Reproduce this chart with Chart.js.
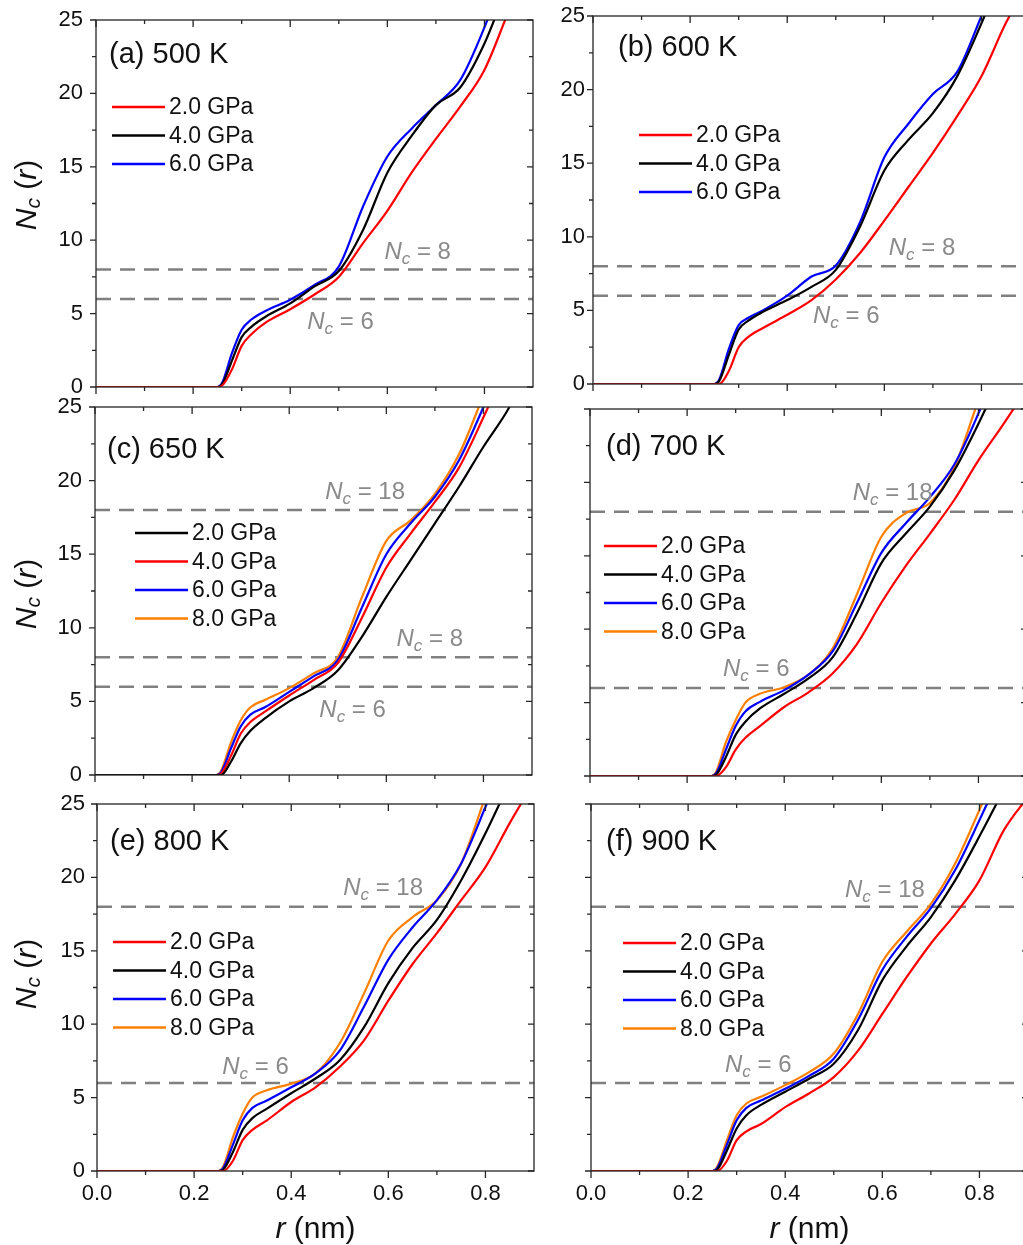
<!DOCTYPE html>
<html>
<head>
<meta charset="utf-8">
<script src="https://cdn.jsdelivr.net/npm/chart.js@4.4.0/dist/chart.umd.min.js"></script>
<style>
  html, body { margin: 0; padding: 0; background: #fff; overflow: hidden; }
  body { width: 1023px; height: 1245px; position: relative; }
  canvas { position: absolute; }
</style>
</head>
<body>
<canvas id="pa"></canvas>
<canvas id="pb"></canvas>
<canvas id="pc"></canvas>
<canvas id="pd"></canvas>
<canvas id="pe"></canvas>
<canvas id="pf"></canvas>
<script>
// r (nm) sample points shared by every curve
const R = [0, 0.25, 0.26, 0.28, 0.3, 0.32, 0.35, 0.4, 0.45, 0.5, 0.55, 0.6, 0.65, 0.7, 0.75, 0.8, 0.85, 0.9];

// (a) 500 K
const a20 = [0, 0, 0.1, 1.2, 2.8, 3.6, 4.4, 5.3, 6.3, 7.5, 9.8, 12.0, 14.6, 16.9, 19.1, 21.6, 25.6, 29.5];
const a40 = [0, 0, 0.2, 1.8, 3.4, 4.1, 4.8, 5.7, 6.85, 7.9, 10.7, 14.6, 17.1, 19.2, 20.4, 23.4, 27.5, 31];
const a60 = [0, 0, 0.3, 2.3, 3.9, 4.6, 5.2, 5.95, 6.95, 8.2, 12.3, 15.7, 17.6, 19.2, 20.9, 24.5, 29, 33];
// (b) 600 K
const b20 = [0, 0, 0, 0.9, 2.5, 3.2, 3.8, 4.7, 5.7, 7.1, 8.9, 11.1, 13.4, 15.7, 18.2, 20.9, 24.5, 27.5];
const b40 = [0, 0, 0.2, 2.0, 3.7, 4.3, 4.9, 5.7, 6.6, 7.75, 10.7, 14.5, 16.6, 18.4, 20.9, 24.5, 28.5, 32];
const b60 = [0, 0, 0.3, 2.4, 4.0, 4.5, 5.0, 6.0, 7.3, 8.05, 11.0, 15.4, 17.7, 19.7, 21.2, 25.0, 29, 33];
// (c) 650 K
const c20 = [0, 0, 0, 0.9, 2.15, 3.0, 3.85, 5.0, 5.9, 7.1, 9.4, 12.1, 14.6, 17.1, 19.6, 22.3, 24.8, 28];
const c40 = [0, 0, 0.1, 1.3, 2.8, 3.6, 4.3, 5.4, 6.45, 7.6, 10.7, 14.1, 16.4, 18.55, 20.9, 24.3, 28, 32];
const c60 = [0, 0, 0.2, 1.8, 3.3, 4.1, 4.6, 5.65, 6.7, 7.8, 11.4, 15.0, 17.1, 18.9, 21.4, 25.0, 29, 33];
const c80 = [0, 0, 0.3, 2.2, 3.7, 4.6, 5.1, 5.9, 6.9, 8.0, 12.1, 15.9, 17.3, 19.1, 21.8, 25.8, 30, 34];
// (d) 700 K
const d20 = [0, 0, 0, 0.6, 1.8, 2.6, 3.4, 4.7, 5.7, 7.0, 9.0, 11.8, 14.3, 16.5, 18.8, 21.5, 23.9, 26.4];
const d40 = [0, 0, 0.1, 1.3, 2.8, 3.7, 4.6, 5.6, 6.65, 8.1, 11.1, 14.5, 16.5, 18.35, 20.8, 24.0, 27.5, 31];
const d60 = [0, 0, 0.2, 1.8, 3.4, 4.4, 5.05, 5.85, 6.9, 8.5, 11.8, 15.2, 17.2, 19.0, 21.2, 24.7, 29, 33];
const d80 = [0, 0, 0.3, 2.3, 3.8, 5.0, 5.6, 6.05, 6.9, 8.7, 12.4, 16.3, 17.9, 18.6, 21.0, 25.6, 30, 34];
// (e) 800 K
const e20 = [0, 0, 0, 0.7, 2.1, 2.8, 3.45, 4.7, 5.7, 7.1, 8.9, 11.6, 14.1, 16.2, 18.45, 20.7, 23.7, 26.5];
const e40 = [0, 0, 0.1, 1.3, 2.8, 3.6, 4.25, 5.3, 6.3, 7.55, 9.8, 12.8, 15.2, 17.1, 19.8, 23.0, 26.5, 30];
const e60 = [0, 0, 0.2, 1.8, 3.45, 4.3, 4.8, 5.7, 6.65, 8.2, 11.2, 14.4, 16.6, 18.45, 20.95, 24.8, 29, 33];
const e80 = [0, 0, 0.3, 2.3, 3.9, 5.0, 5.5, 5.95, 6.65, 8.7, 12.1, 15.7, 17.3, 18.45, 20.95, 25.5, 30, 34];
// (f) 900 K
const f20 = [0, 0, 0, 0.7, 2.1, 2.7, 3.2, 4.35, 5.3, 6.4, 8.2, 10.7, 13.2, 15.5, 17.5, 19.8, 23.2, 25.5];
const f40 = [0, 0, 0.1, 1.4, 2.9, 3.8, 4.5, 5.4, 6.3, 7.3, 9.6, 13.0, 15.3, 17.3, 19.8, 22.8, 26, 29.5];
const f60 = [0, 0, 0.2, 1.8, 3.45, 4.3, 4.8, 5.6, 6.5, 7.65, 10.3, 13.7, 15.95, 17.9, 20.5, 23.9, 27.5, 31];
const f80 = [0, 0, 0.3, 2.1, 3.8, 4.6, 5.05, 5.85, 6.75, 8.0, 10.7, 14.25, 16.3, 18.2, 20.95, 24.6, 28.5, 32];

// dashed reference levels N_c
const refA = [6, 8], refB = [6, 8], refC = [6, 8, 18];
const refD = [6, 18], refE = [6, 18], refF = [6, 18];

const xMajor = [0, 0.2, 0.4, 0.6, 0.8], xMinor = [0.1, 0.3, 0.5, 0.7];
const yMajor = [0, 5, 10, 15, 20, 25], yMinor = [2.5, 7.5, 12.5, 17.5, 22.5];

const FONT = "'Liberation Sans', Arial, sans-serif";
const RED = '#ff0000', BLACK = '#000000', BLUE = '#0000ff', ORANGE = '#ff7f00';
const GREY = '#808080', AXIS = '#262626';

const panels = [
  { id: 'pa', box: [96, 20, 437, 367], title: '(a) 500 K', titleAt: [13, 35],
    series: [[a20, RED, '2.0 GPa'], [a40, BLACK, '4.0 GPa'], [a60, BLUE, '6.0 GPa']],
    legAt: [16, 87], refs: refA, notes: [[0.594, 9.33, 8], [0.435, 4.56, 6]],
    left: true, yLab: true, xLab: false, tickPad: 13, yTitleAt: 175 },
  { id: 'pb', box: [593, 16, 437, 368], title: '(b) 600 K', titleAt: [25, 32],
    series: [[b20, RED, '2.0 GPa'], [b40, BLACK, '4.0 GPa'], [b60, BLUE, '6.0 GPa']],
    legAt: [46, 119], refs: refB, notes: [[0.609, 9.37, 8], [0.453, 4.76, 6]],
    left: false, yLab: true, xLab: false, tickPad: 8 },
  { id: 'pc', box: [95, 407, 437, 368], title: '(c) 650 K', titleAt: [12, 43],
    series: [[c20, BLACK, '2.0 GPa'], [c40, RED, '4.0 GPa'], [c60, BLUE, '6.0 GPa'], [c80, ORANGE, '8.0 GPa']],
    legAt: [40, 126], refs: refC, notes: [[0.474, 19.36, 18], [0.621, 9.37, 8], [0.462, 4.55, 6]],
    left: true, yLab: true, xLab: false, tickPad: 13, yTitleAt: 187 },
  { id: 'pd', box: [590, 409, 437, 367], title: '(d) 700 K', titleAt: [16, 38],
    series: [[d20, RED, '2.0 GPa'], [d40, BLACK, '4.0 GPa'], [d60, BLUE, '6.0 GPa'], [d80, ORANGE, '8.0 GPa']],
    legAt: [14, 137], refs: refD, notes: [[0.541, 19.41, 18], [0.274, 7.42, 6]],
    left: false, yLab: false, xLab: false, tickPad: 8 },
  { id: 'pe', box: [97, 804, 437, 367], title: '(e) 800 K', titleAt: [13, 38],
    series: [[e20, RED, '2.0 GPa'], [e40, BLACK, '4.0 GPa'], [e60, BLUE, '6.0 GPa'], [e80, ORANGE, '8.0 GPa']],
    legAt: [16, 138], refs: refE, notes: [[0.507, 19.41, 18], [0.258, 7.22, 6]],
    left: true, yLab: true, xLab: true, tickPad: 12, yTitleAt: 170 },
  { id: 'pf', box: [591, 804, 437, 367], title: '(f) 900 K', titleAt: [15, 38],
    series: [[f20, RED, '2.0 GPa'], [f40, BLACK, '4.0 GPa'], [f60, BLUE, '6.0 GPa'], [f80, ORANGE, '8.0 GPa']],
    legAt: [32, 139], refs: refF, notes: [[0.523, 19.28, 18], [0.276, 7.36, 6]],
    left: false, yLab: false, xLab: true, tickPad: 8 }
];

// draws text made of several font runs, left or centre aligned on a baseline
function rich(ctx, parts, x, y, center, color) {
  ctx.fillStyle = color;
  ctx.textAlign = 'left';
  ctx.textBaseline = 'alphabetic';
  let w = 0;
  parts.forEach(([t, f]) => { ctx.font = f + ' ' + FONT; w += ctx.measureText(t).width; });
  let cx = center ? x - w / 2 : x;
  parts.forEach(([t, f, dy]) => {
    ctx.font = f + ' ' + FONT;
    ctx.fillText(t, cx, y + (dy || 0));
    cx += ctx.measureText(t).width;
  });
}

function decor(p) {
  return {
    id: 'decor_' + p.id,
    afterDraw(chart) {
      const ctx = chart.ctx, a = chart.chartArea, x = chart.scales.x, y = chart.scales.y;
      ctx.save();
      // frame + ticks (left/bottom out, top/right in)
      ctx.strokeStyle = AXIS;
      ctx.lineWidth = 1.3;
      ctx.strokeRect(a.left, a.top, a.right - a.left, a.bottom - a.top);
      ctx.beginPath();
      const tick = (x0, y0, dx, dy) => { ctx.moveTo(x0, y0); ctx.lineTo(x0 + dx, y0 + dy); };
      xMajor.forEach(v => { const px = x.getPixelForValue(v); tick(px, a.bottom, 0, 7); tick(px, a.top, 0, 7); });
      xMinor.forEach(v => { const px = x.getPixelForValue(v); tick(px, a.bottom, 0, 4); tick(px, a.top, 0, 4); });
      yMajor.forEach(v => { const py = y.getPixelForValue(v); tick(a.left, py, -6, 0); tick(a.right, py, -6, 0); });
      yMinor.forEach(v => { const py = y.getPixelForValue(v); tick(a.left, py, -4, 0); tick(a.right, py, -4, 0); });
      ctx.stroke();

      // panel title
      ctx.fillStyle = '#111';
      ctx.font = '29px ' + FONT;
      ctx.textAlign = 'left';
      ctx.textBaseline = 'middle';
      ctx.fillText(p.title, a.left + p.titleAt[0], a.top + p.titleAt[1]);

      // legend
      p.series.forEach(([vals, col, lab], i) => {
        const lx = a.left + p.legAt[0], ly = a.top + p.legAt[1] + i * 28.5;
        ctx.strokeStyle = col;
        ctx.lineWidth = 2.5;
        ctx.beginPath();
        ctx.moveTo(lx, ly);
        ctx.lineTo(lx + 53, ly);
        ctx.stroke();
        ctx.fillStyle = '#111';
        ctx.font = '23px ' + FONT;
        ctx.textBaseline = 'middle';
        ctx.fillText(lab, lx + 57, ly + 1);
      });

      // N_c labels on the dashed levels
      p.notes.forEach(([r, n, v]) => {
        rich(ctx, [['N', 'italic 24px'], ['c', 'italic 17px', 5], [' = ' + v, '24px']],
          x.getPixelForValue(r), y.getPixelForValue(n) + 9, false, '#8a8a8a');
      });

      // axis titles
      if (p.left) {
        ctx.save();
        ctx.translate(36, a.top + p.yTitleAt);
        ctx.rotate(-Math.PI / 2);
        rich(ctx, [['N', 'italic 30px'], ['c', 'italic 21px', 4], [' (', '30px'], ['r', 'italic 30px'], [')', '30px']],
          0, 0, true, '#111');
        ctx.restore();
      }
      if (p.xLab) {
        rich(ctx, [['r', 'italic 30px'], [' (nm)', '30px']], (a.left + a.right) / 2, a.bottom + 67, true, '#111');
      }
      ctx.restore();
    }
  };
}

const PAD_TOP = 32;

panels.forEach(p => {
  const [L, T, W, H] = p.box;
  const padL = p.left ? L : 60;
  const bottomH = p.xLab ? 75 : 28;
  const cv = document.getElementById(p.id);
  cv.width = padL + W + 6;
  cv.height = PAD_TOP + H + bottomH;
  cv.style.left = (L - padL) + 'px';
  cv.style.top = (T - PAD_TOP) + 'px';

  const datasets = p.series.map(([vals, col, lab]) => ({
    label: lab,
    data: R.map((r, i) => ({ x: r, y: vals[i] })),
    borderColor: col,
    borderWidth: 2.2,
    pointRadius: 0,
    fill: false,
    cubicInterpolationMode: 'monotone',
    order: 1
  }));
  p.refs.forEach(v => datasets.push({
    label: 'Nc = ' + v,
    data: [{ x: 0, y: v }, { x: 0.9, y: v }],
    borderColor: GREY,
    borderWidth: 2.5,
    borderDash: [15, 9],
    pointRadius: 0,
    fill: false,
    order: 5
  }));

  new Chart(cv, {
    type: 'line',
    data: { datasets },
    options: {
      responsive: false,
      animation: false,
      devicePixelRatio: 1,
      layout: { padding: { left: 0, top: PAD_TOP, right: 6, bottom: 0 } },
      plugins: { legend: { display: false }, tooltip: { enabled: false } },
      scales: {
        x: {
          type: 'linear', min: 0, max: 0.9,
          grid: { display: false, drawTicks: false },
          border: { display: false },
          ticks: {
            display: p.xLab, stepSize: 0.2, includeBounds: false, padding: 10,
            color: '#111', font: { family: FONT, size: 22 },
            callback: v => v.toFixed(1)
          },
          afterFit: s => { s.height = bottomH; }
        },
        y: {
          type: 'linear', min: 0, max: 25,
          grid: { display: false, drawTicks: false },
          border: { display: false },
          ticks: {
            display: p.yLab, stepSize: 5, padding: p.tickPad,
            color: '#111', font: { family: FONT, size: 22 }
          },
          afterFit: s => { s.width = padL; }
        }
      }
    },
    plugins: [decor(p)]
  });
});
</script>
</body>
</html>
